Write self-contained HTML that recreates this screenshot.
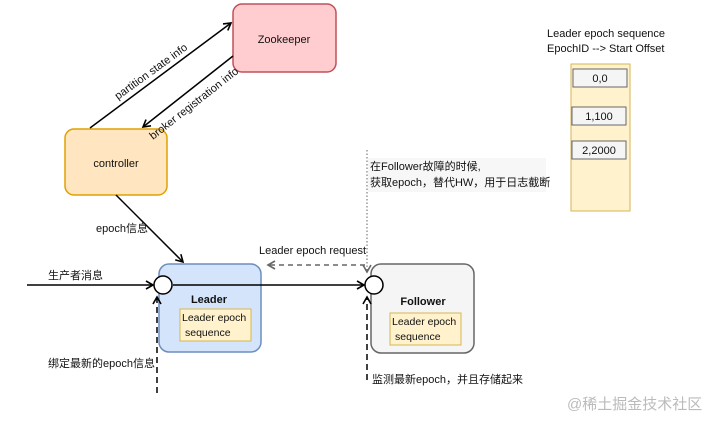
<!DOCTYPE html>
<html><head><meta charset="utf-8"><style>
body{margin:0;background:#fff;width:704px;height:416px;overflow:hidden}
text{font-family:"Liberation Sans","Noto Sans CJK SC",sans-serif;font-size:11px;fill:#111}
</style></head><body>
<svg width="704" height="416" viewBox="0 0 704 416" xmlns="http://www.w3.org/2000/svg">
<defs>
<marker id="a" markerWidth="10" markerHeight="10" refX="8" refY="5" orient="auto" markerUnits="userSpaceOnUse"><path d="M1,1 L8,5 L1,9" fill="none" stroke="#000" stroke-width="1.6"/></marker>
<marker id="g" markerWidth="10" markerHeight="10" refX="8" refY="5" orient="auto" markerUnits="userSpaceOnUse"><path d="M1,1 L8,5 L1,9" fill="none" stroke="#666" stroke-width="1.6"/></marker>
</defs>
<rect x="233" y="4" width="103" height="68" rx="9" fill="#ffcdd0" stroke="#c0505a" stroke-width="1.5"/>
<text x="284" y="43" text-anchor="middle">Zookeeper</text>
<rect x="65" y="129" width="102" height="66" rx="9" fill="#ffe5c0" stroke="#e0a000" stroke-width="1.5"/>
<text x="116" y="167" text-anchor="middle">controller</text>
<line x1="90" y1="128" x2="231" y2="23" stroke="#000" stroke-width="1.5" marker-end="url(#a)"/>
<line x1="233" y1="56" x2="143" y2="127" stroke="#000" stroke-width="1.5" marker-end="url(#a)"/>
<text x="0" y="0" transform="translate(118,100) rotate(-36)">partition state info</text>
<text x="0" y="0" transform="translate(153,140) rotate(-38)">broker registration info</text>
<line x1="116" y1="195" x2="183" y2="262" stroke="#000" stroke-width="1.5" marker-end="url(#a)"/>
<text x="96" y="232">epoch信息</text>
<rect x="159" y="264" width="102" height="88" rx="10" fill="#d4e4fb" stroke="#6c8ebf" stroke-width="1.5"/>
<text x="209" y="303" text-anchor="middle" font-weight="bold">Leader</text>
<rect x="180" y="309" width="71" height="32" fill="#fff2cc" stroke="#d6b656"/>
<text x="182" y="321" style="font-size:10.5px">Leader epoch</text><text x="185" y="336" style="font-size:10.5px">sequence</text>
<rect x="371" y="264" width="103" height="89" rx="10" fill="#f5f5f5" stroke="#666" stroke-width="1.5"/>
<text x="423" y="305" text-anchor="middle" font-weight="bold">Follower</text>
<rect x="390" y="313" width="71" height="32" fill="#fff2cc" stroke="#d6b656"/>
<text x="392" y="325" style="font-size:10.5px">Leader epoch</text><text x="395" y="340" style="font-size:10.5px">sequence</text>
<line x1="27" y1="285" x2="153" y2="285" stroke="#000" stroke-width="1.5" marker-end="url(#a)"/>
<text x="48" y="279">生产者消息</text>
<line x1="173" y1="285" x2="364" y2="285" stroke="#000" stroke-width="1.5" marker-end="url(#a)"/>
<line x1="365" y1="265" x2="268" y2="265" stroke="#666" stroke-width="1.5" stroke-dasharray="5,4" marker-end="url(#g)"/>
<text x="259" y="254">Leader epoch request</text>
<line x1="367" y1="150" x2="367" y2="272" stroke="#666" stroke-width="1" stroke-dasharray="1.5,2" marker-end="url(#g)"/>
<rect x="368" y="158" width="178" height="34" fill="#f7f7f7"/>
<text x="370" y="170">在Follower故障的时候,</text>
<text x="370" y="186">获取epoch，替代HW，用于日志截断</text>
<line x1="157" y1="393" x2="157" y2="297" stroke="#000" stroke-width="1.5" stroke-dasharray="6,4" marker-end="url(#a)"/>
<text x="48" y="367">绑定最新的epoch信息</text>
<line x1="367" y1="380" x2="367" y2="297" stroke="#000" stroke-width="1.5" stroke-dasharray="6,4" marker-end="url(#a)"/>
<text x="372" y="383" fill="#555">监测最新epoch，并且存储起来</text>
<circle cx="163" cy="285" r="9" fill="#fff" stroke="#000" stroke-width="1.5"/>
<circle cx="374" cy="285" r="9" fill="#fff" stroke="#000" stroke-width="1.5"/>
<text x="547" y="37">Leader epoch sequence</text>
<text x="547" y="52">EpochID --&gt; Start Offset</text>
<rect x="571" y="64" width="59" height="147" fill="#fff2cc" stroke="#d6b656"/>
<rect x="573" y="69" width="54" height="18" fill="#f5f5f5" stroke="#666"/><text x="600" y="82" text-anchor="middle">0,0</text>
<rect x="572" y="107" width="54" height="18" fill="#f5f5f5" stroke="#666"/><text x="599" y="120" text-anchor="middle">1,100</text>
<rect x="572" y="141" width="54" height="18" fill="#f5f5f5" stroke="#666"/><text x="599" y="154" text-anchor="middle">2,2000</text>
<text x="567" y="409" style="font-size:15px;fill:#bbb">@稀土掘金技术社区</text>
</svg>
</body></html>
